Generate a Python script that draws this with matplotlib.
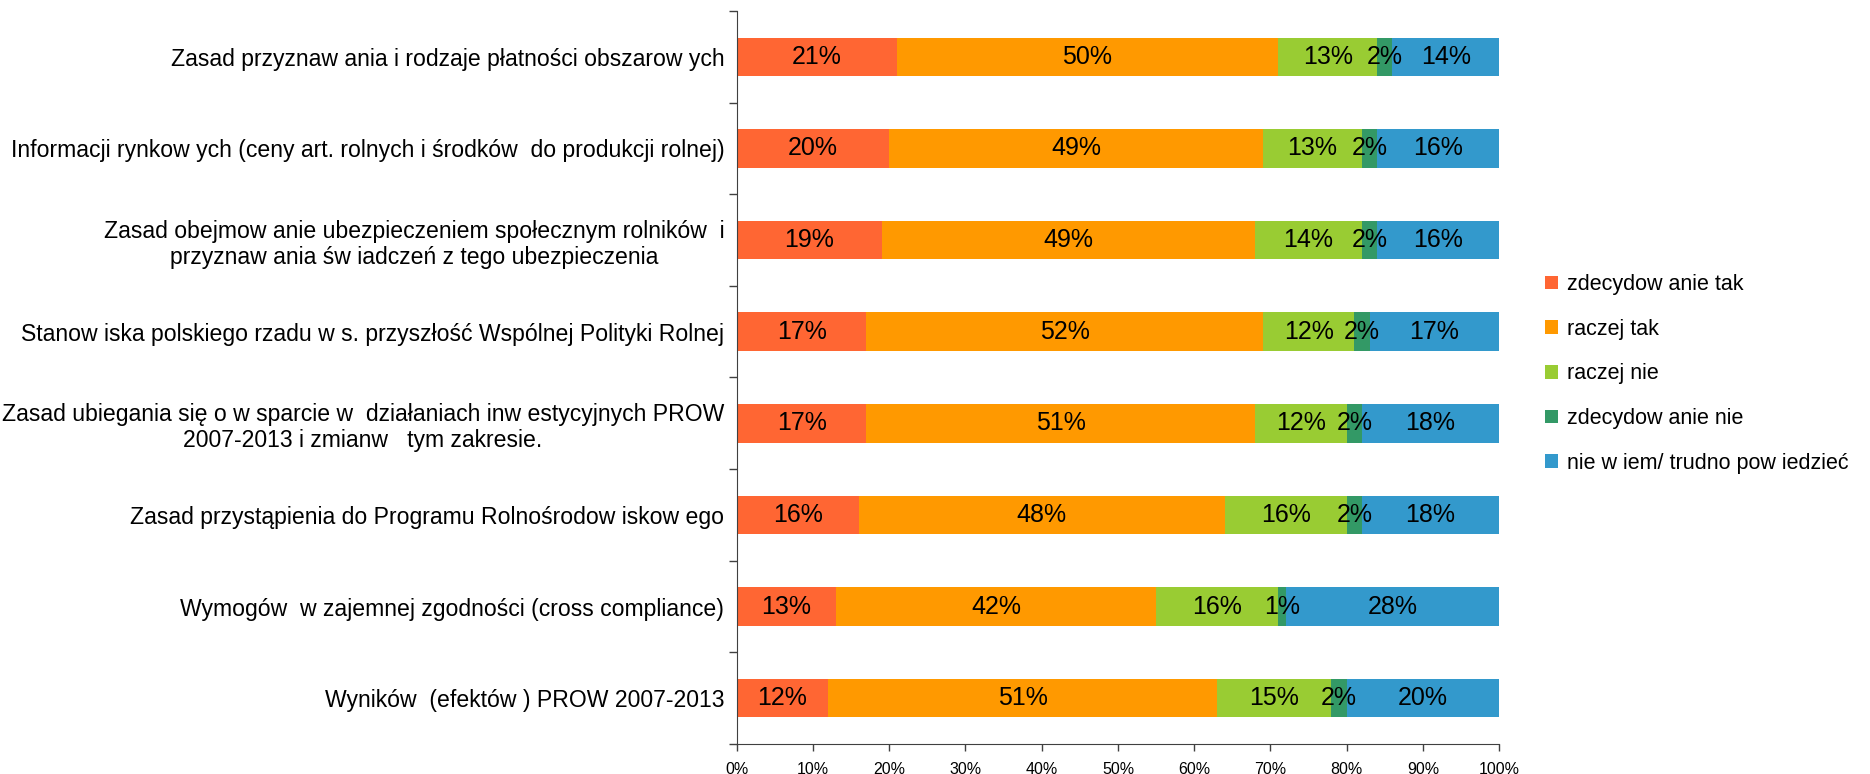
import matplotlib.pyplot as plt
import numpy as np

plt.rcParams['font.family'] = ['Liberation Sans', 'DejaVu Sans']

categories = [
    "Zasad przyznaw ania i rodzaje płatności obszarow ych",
    "Informacji rynkow ych (ceny art. rolnych i środków  do produkcji rolnej)",
    "Zasad obejmow anie ubezpieczeniem społecznym rolników  i\nprzyznaw ania św iadczeń z tego ubezpieczenia",
    "Stanow iska polskiego rzadu w s. przyszłość Wspólnej Polityki Rolnej",
    "Zasad ubiegania się o w sparcie w  działaniach inw estycyjnych PROW\n2007-2013 i zmianw   tym zakresie.",
    "Zasad przystąpienia do Programu Rolnośrodow iskow ego",
    "Wymogów  w zajemnej zgodności (cross compliance)",
    "Wyników  (efektów ) PROW 2007-2013",
]

series_names = ["zdecydow anie tak", "raczej tak", "raczej nie",
                "zdecydow anie nie", "nie w iem/ trudno pow iedzieć"]

zdecydowanie_tak = [21, 20, 19, 17, 17, 16, 13, 12]
raczej_tak = [50, 49, 49, 52, 51, 48, 42, 51]
raczej_nie = [13, 13, 14, 12, 12, 16, 16, 15]
zdecydowanie_nie = [2, 2, 2, 2, 2, 2, 1, 2]
nie_wiem = [14, 16, 16, 17, 18, 18, 28, 20]

colors = ['#FF6633', '#FF9900', '#99CC33', '#339966', '#3399CC']

series = [zdecydowanie_tak, raczej_tak, raczej_nie, zdecydowanie_nie, nie_wiem]

fig = plt.figure(figsize=(18.7, 7.74), dpi=100)
ax = fig.add_axes([0.394, 0.0388, 0.4077, 0.947])

y = np.arange(len(categories))
left = np.zeros(len(categories))
for vals, name, col in zip(series, series_names, colors):
    vals = np.array(vals, dtype=float)
    ax.barh(y, vals, left=left, height=0.42, color=col, label=name)
    for yi, l, v in zip(y, left, vals):
        ax.text(l + v / 2, yi, f"{int(v)}%", ha='center', va='center', fontsize=18)
    left += vals

ax.set_xlim(0, 100)
ax.set_ylim(len(categories) - 0.5, -0.5)

ax.set_xticks(np.arange(0, 101, 10))
ax.set_xticklabels([f"{v}%" for v in range(0, 101, 10)], fontsize=11.5)
ax.tick_params(axis='x', direction='out', length=5, width=1, color='#404040', pad=8)

ax.set_yticks(np.arange(-0.5, len(categories), 1))
ax.set_yticklabels([])
ax.tick_params(axis='y', which='major', direction='out', length=6, width=1, color='#404040')
ax.set_yticks(y, minor=True)
ax.set_yticklabels(categories, minor=True, fontsize=16.6, multialignment='center')
ax.tick_params(axis='y', which='minor', length=0, pad=9)

for s in ['top', 'right']:
    ax.spines[s].set_visible(False)
for s in ['left', 'bottom']:
    ax.spines[s].set_color('#404040')

handles, labels = ax.get_legend_handles_labels()
fig.legend(handles, labels, loc='center left', bbox_to_anchor=(0.816, 0.517),
           frameon=False, fontsize=15.5, handlelength=0.6, handleheight=0.6,
           handletextpad=0.4, labelspacing=1.1)

fig.savefig('out.png', dpi=100)
